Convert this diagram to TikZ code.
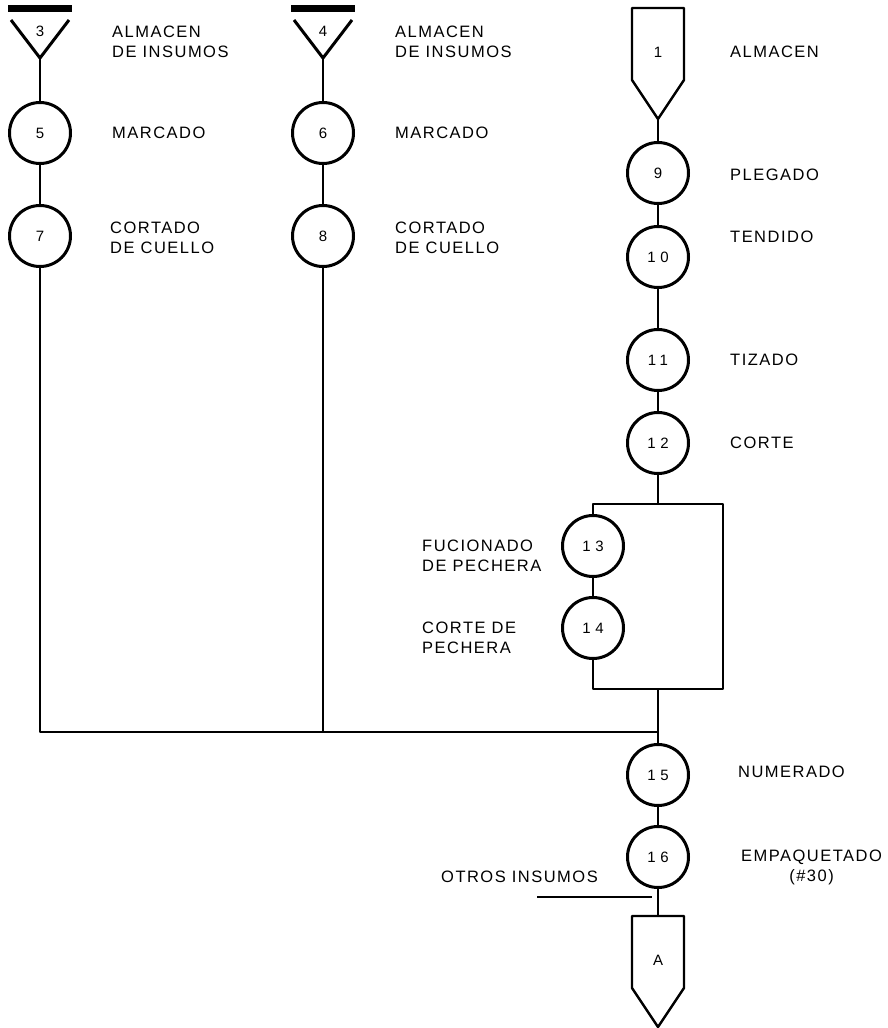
\documentclass[tikz,border=0pt]{standalone}
\usepackage{fontspec}
\setmainfont{Liberation Sans}[LetterSpace=9]
\newfontfamily\numfont{Liberation Sans}[LetterSpace=30]
\begin{document}
\begin{tikzpicture}[x=1pt,y=-1pt,line join=round,
  op/.style={circle,draw,line width=3pt,minimum size=61pt,inner sep=0pt,font=\numfont\fontsize{15}{15}\selectfont},
  num/.style={inner sep=0pt,font=\numfont\fontsize{15}{15}\selectfont},
  con/.style={line width=1.8pt},
  lbl/.style={anchor=west,align=left,inner sep=0pt,font=\fontsize{16.5}{20}\selectfont}]
\useasboundingbox (0,0) rectangle (887,1028);
\newcommand{\insumo}[3]{\draw[line width=7pt] (#2-32,8.5)--(#2+32,8.5);\draw[line width=3pt] (#2-29,20)--(#2,58)--(#2+29,20);\node[num] (#1) at (#2,31) {#3};\coordinate (#1-tip) at (#2,58);}
\newcommand{\pentag}[4]{\draw[line width=2.4pt] (#2-26,#3)--(#2+26,#3)--(#2+26,#3+72)--(#2,#3+111)--(#2-26,#3+72)--cycle;\node[num] (#1) at (#2,#3+44) {#4};\coordinate (#1-top) at (#2,#3);\coordinate (#1-tip) at (#2,#3+111);}
% almacenes
\insumo{i3}{40}{3}
\insumo{i4}{323}{4}
\pentag{p1}{658}{8}{1}
\pentag{pA}{658}{916}{A}
% operaciones
\foreach \n/\x/\y in {5/40/133,7/40/236,6/323/133,8/323/236,9/658/173,10/658/257,11/658/360,12/658/443,13/593/546,14/593/628,15/658/775,16/658/857}{\node[op] (c\n) at (\x,\y) {\n};}
% textos
\node[lbl] (t3) at (112,42) {ALMACEN\\DE INSUMOS};
\node[lbl] (t4) at (395,42) {ALMACEN\\DE INSUMOS};
\node[lbl] (t1) at (730,52) {ALMACEN};
\node[lbl] (t5) at (112,133) {MARCADO};
\node[lbl] (t6) at (395,133) {MARCADO};
\node[lbl] (t9) at (730,175) {PLEGADO};
\node[lbl] (t7) at (110,238) {CORTADO\\DE CUELLO};
\node[lbl] (t8) at (395,238) {CORTADO\\DE CUELLO};
\node[lbl] (t10) at (730,237) {TENDIDO};
\node[lbl] (t11) at (730,360) {TIZADO};
\node[lbl] (t12) at (730,443) {CORTE};
\node[lbl] (t13) at (422,556) {FUCIONADO\\DE PECHERA};
\node[lbl] (t14) at (422,638) {CORTE DE\\PECHERA};
\node[lbl] (t15) at (738,772) {NUMERADO};
\node[lbl,align=center] (t16) at (741,867) {EMPAQUETADO\\(\#30)};
\node[lbl,anchor=east] (otros) at (598,877) {OTROS INSUMOS};
% conexiones
\coordinate (split) at (658,504);
\coordinate (join) at (658,689);
\coordinate (merge) at (658,732);
\coordinate (rtop) at (723,504);
\coordinate (rbot) at (723,689);
\coordinate (oa) at (537,897);
\coordinate (ob) at (652,897);
\draw[con] (i3-tip) -- (c5);
\draw[con] (c5) -- (c7);
\draw[con] (i4-tip) -- (c6);
\draw[con] (c6) -- (c8);
\draw[con] (p1-tip) -- (c9);
\draw[con] (c9) -- (c10);
\draw[con] (c10) -- (c11);
\draw[con] (c11) -- (c12);
\draw[con] (c12) -- (split);
\draw[con] (c13) |- (rtop) -- (rbot) -| (c14);
\draw[con] (c13) -- (c14);
\draw[con] (c7) |- (merge);
\draw[con] (c8) -- (c8 |- merge);
\draw[con] (join) -- (c15);
\draw[con] (c15) -- (c16);
\draw[con] (c16) -- (pA-top);
\draw[con] (oa) -- (ob);
\end{tikzpicture}
\end{document}
